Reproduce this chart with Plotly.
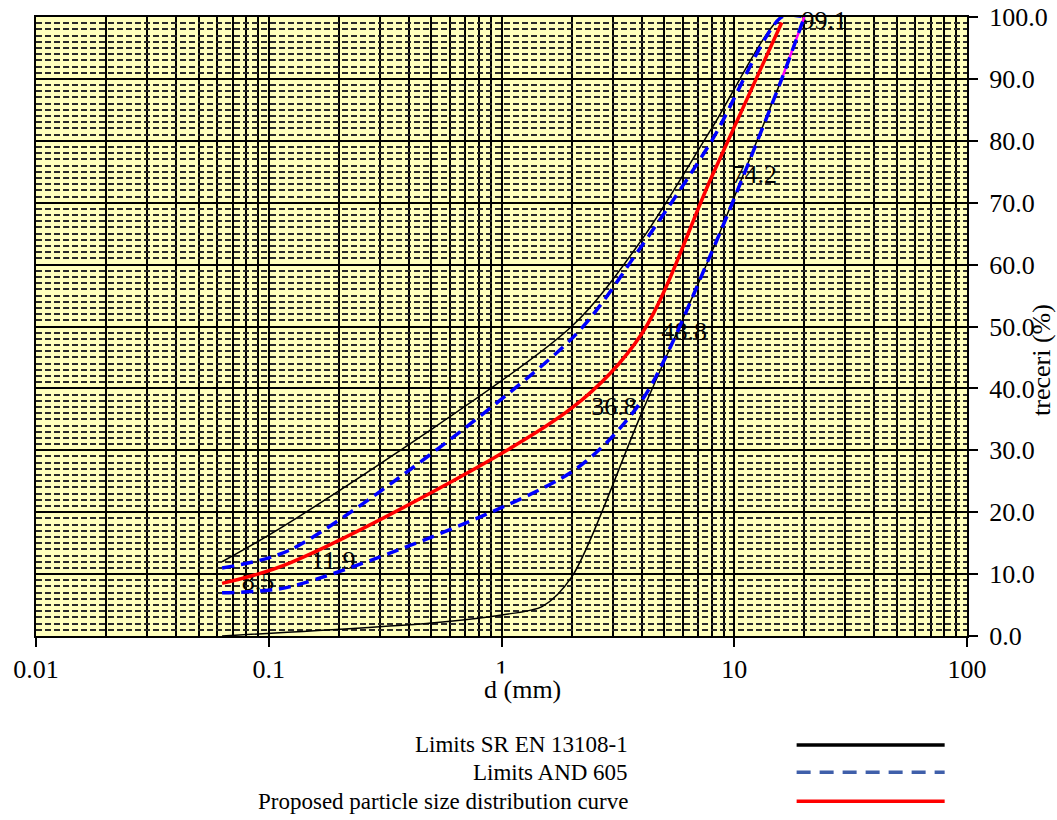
import plotly.graph_objects as go

# ---------------- data ----------------
sieves_main = [0.063, 0.125, 2, 4, 8, 16]

# Limits SR EN 13108-1
en_upper_x = [0.063, 0.125, 2, 4, 8, 16, 20]
en_upper_y = [12, 18.5, 50, 64, 82, 100, 100]
en_lower_x = [0.063, 0.5, 1, 1.5, 2, 4, 8, 16]
en_lower_y = [0, 2.1, 3.4, 4.8, 9.5, 36, 62, 90]
en_top_x = [16, 20]
en_top_y = [90, 100]

# Limits AND 605
and_upper_x = [0.063, 0.125, 2, 4, 8, 16, 20]
and_upper_y = [11, 14, 48, 63, 80, 100, 100]
and_lower_x = [0.063, 0.125, 2, 4, 8, 16, 20]
and_lower_y = [7, 8, 26.5, 38, 62, 90, 100]

# Proposed curve
proposed_x = sieves_main
proposed_y = [8.5, 11.9, 36.8, 48.8, 74.2, 99.1]

x_tick_vals = [0.01, 0.1, 1, 10, 100]
x_tick_text = ["0.01", "0.1", "1", "10", "100"]
x_minor_vals = [m * d for d in [0.01, 0.1, 1, 10] for m in range(2, 10)]
y_tick_vals = [0, 10, 20, 30, 40, 50, 60, 70, 80, 90, 100]

legend_names = ["Limits SR EN 13108-1", "Limits AND 605",
                "Proposed particle size distribution curve"]

FONT = "Liberation Serif, Times New Roman, serif"
BLUE = "#0000FF"
RED = "#FF0000"

fig = go.Figure()

# data labels (drawn under the curves)
fig.add_trace(go.Scatter(
    x=proposed_x, y=proposed_y, mode="markers+text",
    text=[f"{v:.1f}" for v in proposed_y], textposition="middle right",
    marker=dict(size=30, opacity=0), textfont=dict(family=FONT, size=26, color="black"),
    cliponaxis=False, showlegend=False, hoverinfo="skip"))

# SR EN limits
fig.add_trace(go.Scatter(x=en_upper_x, y=en_upper_y, mode="lines",
                         line=dict(color="black", width=1.5, shape="spline", smoothing=0.8),
                         showlegend=False))
fig.add_trace(go.Scatter(x=en_lower_x, y=en_lower_y, mode="lines",
                         line=dict(color="black", width=1.5, shape="spline", smoothing=0.8),
                         showlegend=False))
fig.add_trace(go.Scatter(x=en_top_x, y=en_top_y, mode="lines",
                         line=dict(color="#FF00FF", width=2.5),
                         showlegend=False))

# AND 605 limits
for xs, ys in [(and_upper_x, and_upper_y), (and_lower_x, and_lower_y)]:
    fig.add_trace(go.Scatter(x=xs, y=ys, mode="lines",
                             line=dict(color=BLUE, width=3.5, dash="12px,7px",
                                       shape="spline", smoothing=0.8),
                             showlegend=False))

# proposed curve
fig.add_trace(go.Scatter(x=proposed_x, y=proposed_y, mode="lines",
                         line=dict(color=RED, width=3.5, shape="spline", smoothing=0.9),
                         showlegend=False))

fig.update_layout(
    width=1057, height=820,
    margin=dict(l=36, r=90, t=17, b=184, autoexpand=False),
    paper_bgcolor="white", plot_bgcolor="#FFFFBC",
    font=dict(family=FONT, size=26, color="black"),
    showlegend=False,
)

fig.update_xaxes(
    type="log", range=[-2, 2], automargin=False,
    tickvals=x_tick_vals, ticktext=x_tick_text,
    ticks="outside", ticklen=9, tickwidth=1.5, tickcolor="black",
    showgrid=True, gridcolor="black", gridwidth=2,
    minor=dict(tickvals=x_minor_vals, showgrid=True, gridcolor="black",
               gridwidth=2, ticks=""),
    showline=True, linecolor="black", linewidth=2, mirror=True,
    tickfont=dict(family=FONT, size=26, color="black"),
    zeroline=False,
)

fig.update_yaxes(
    range=[0, 100], side="right", automargin=False,
    tickvals=y_tick_vals, tickformat=".1f",
    ticks="outside", ticklen=9, tickwidth=1.5, tickcolor="black",
    ticklabelstandoff=6,
    showgrid=True, gridcolor="black", gridwidth=2,
    minor=dict(dtick=1, showgrid=True, gridcolor="#2a2a2a", gridwidth=1.5,
               griddash="6px,3px", ticks=""),
    showline=True, linecolor="black", linewidth=2, mirror=True,
    tickfont=dict(family=FONT, size=26, color="black"),
    zeroline=False,
)

# axis titles
fig.add_annotation(text="treceri (%)", xref="paper", yref="paper",
                   x=1.0806, y=0.446, xanchor="center", yanchor="middle",
                   textangle=-90, showarrow=False,
                   font=dict(family=FONT, size=26, color="black"))
fig.add_annotation(text="d (mm)", xref="paper", yref="paper",
                   x=0.523, y=-0.0872, xanchor="center", yanchor="middle",
                   showarrow=False, bgcolor="white",
                   font=dict(family=FONT, size=26, color="black"))

# custom legend (text right aligned, key line on the right)
leg_y = [-0.176, -0.220, -0.267]
leg_styles = [dict(color="black", width=3.5),
              dict(color="#3F5FAA", width=3.5, dash="14px,9px"),
              dict(color=RED, width=3.5)]
for name, yy, st in zip(legend_names, leg_y, leg_styles):
    fig.add_annotation(text=name, xref="paper", yref="paper", x=0.638, y=yy,
                       xanchor="right", yanchor="middle", showarrow=False,
                       font=dict(family=FONT, size=23, color="black"))
    fig.add_shape(type="line", xref="paper", yref="paper",
                  x0=0.817, x1=0.976, y0=yy, y1=yy, line=st)

fig.write_html("out.html", config={"displayModeBar": False},
               post_script="document.body.style.margin='0';document.body.style.padding='0';")
